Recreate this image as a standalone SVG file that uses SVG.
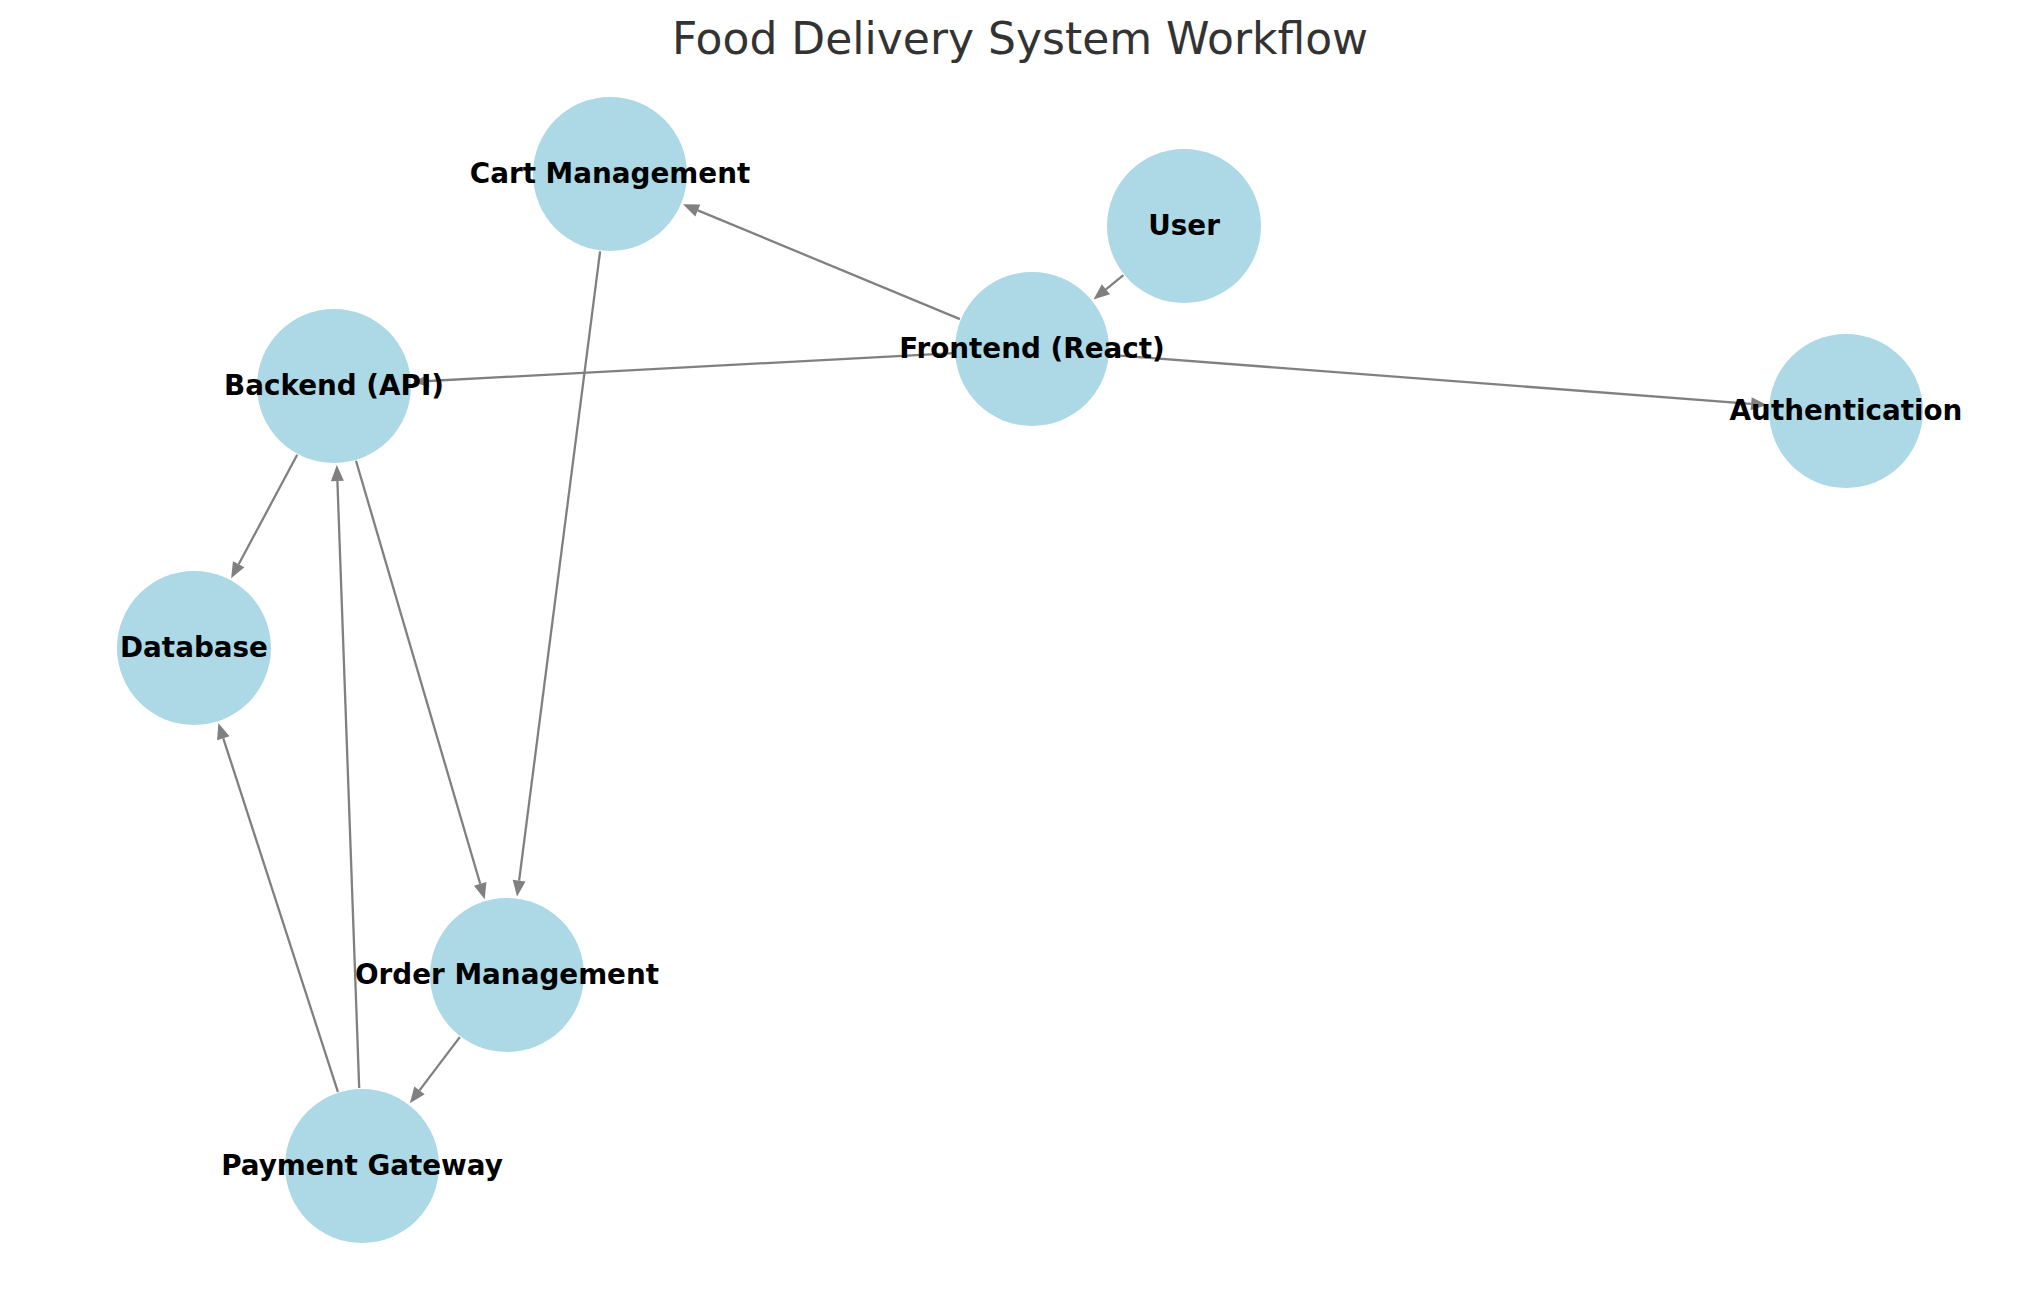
<svg xmlns="http://www.w3.org/2000/svg" width="2039" height="1290" viewBox="0 0 2039 1290">
<style>
.node{fill:#ADD8E6}
.lbl{font-family:"DejaVu Sans",sans-serif;font-weight:bold;font-size:27.8px;fill:#000;text-anchor:middle}
.edge{stroke:#808080;stroke-width:2.3;fill:none;marker-end:url(#ah)}
.title{font-family:"DejaVu Sans",sans-serif;font-size:44px;fill:#333;text-anchor:middle}
</style>
<defs>
<marker id="ah" markerUnits="userSpaceOnUse" markerWidth="16" markerHeight="13" refX="0" refY="6.5" orient="auto" overflow="visible">
<path d="M0,0 L16,6.5 L0,13 z" fill="#808080"/>
</marker>
</defs>
<rect width="2039" height="1290" fill="#fff"/>
<text class="title" x="1020" y="54">Food Delivery System Workflow</text>
<g id="edges">
<line class="edge" x1="1123.4" y1="275.1" x2="1105.9" y2="289.3"/>
<line class="edge" x1="959.9" y1="319.1" x2="697.8" y2="210.4"/>
<line class="edge" x1="954.1" y1="353.1" x2="428.9" y2="381.0"/>
<line class="edge" x1="1109.8" y1="354.9" x2="1751.2" y2="403.8"/>
<line class="edge" x1="600.1" y1="251.4" x2="519.1" y2="880.7"/>
<line class="edge" x1="297.2" y1="454.8" x2="238.7" y2="564.2"/>
<line class="edge" x1="356.0" y1="460.8" x2="480.2" y2="883.8"/>
<line class="edge" x1="459.8" y1="1037.1" x2="419.5" y2="1090.4"/>
<line class="edge" x1="337.9" y1="1091.8" x2="223.3" y2="738.3"/>
<line class="edge" x1="359.2" y1="1088" x2="337.4" y2="481.0"/>
</g>
<g id="node-cart"><circle class="node" cx="610" cy="174" r="77"/></g>
<g id="node-user"><circle class="node" cx="1184" cy="226" r="77"/></g>
<g id="node-frontend"><circle class="node" cx="1032" cy="349" r="77"/></g>
<g id="node-backend"><circle class="node" cx="334" cy="386" r="77"/></g>
<g id="node-auth"><circle class="node" cx="1846" cy="411" r="77"/></g>
<g id="node-database"><circle class="node" cx="194" cy="648" r="77"/></g>
<g id="node-order"><circle class="node" cx="507" cy="975" r="77"/></g>
<g id="node-payment"><circle class="node" cx="362" cy="1166" r="77"/></g>
<g id="labels">
<text class="lbl" x="610" y="183">Cart Management</text>
<text class="lbl" x="1184" y="235">User</text>
<text class="lbl" x="1032" y="358">Frontend (React)</text>
<text class="lbl" x="334" y="395">Backend (API)</text>
<text class="lbl" x="1846" y="420">Authentication</text>
<text class="lbl" x="194" y="657">Database</text>
<text class="lbl" x="507" y="984">Order Management</text>
<text class="lbl" x="362" y="1175">Payment Gateway</text>
</g>
</svg>
